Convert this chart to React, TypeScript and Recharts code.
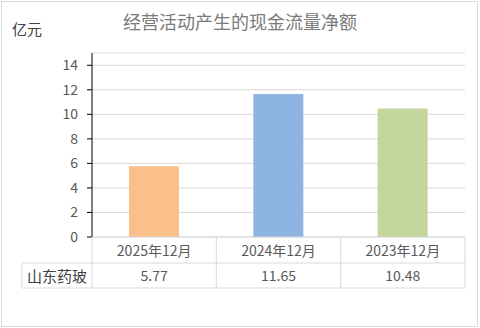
import React from 'react';
import { BarChart, Bar, XAxis, YAxis, CartesianGrid, Cell } from 'recharts';

const categories = ['2025年12月', '2024年12月', '2023年12月'];
const values = [5.77, 11.65, 10.48];
const seriesName = '山东药玻';
const colors = ['#F9C08C', '#8EB4E1', '#C4D69B'];
const yTicks = [0, 2, 4, 6, 8, 10, 12, 14];
const title = '经营活动产生的现金流量净额';
const unit = '亿元';

const data = categories.map((c, i) => ({ name: c, value: values[i] }));

const FONT = '"Noto Sans CJK SC", "Noto Sans", sans-serif';
const GRID = '#D9D9D9';
const TEXT = '#595959';

const TableTick = (props: any) => {
  const { x, y, payload, index } = props;
  const half = payload && payload.offset ? payload.offset : 62;
  const rowH = 26;
  const left = x - half;
  const right = x + half;
  const labelW = 70;
  return (
    <g>
      <line x1={left} x2={right} y1={y} y2={y} stroke={GRID} />
      <line x1={left} x2={right} y1={y + rowH} y2={y + rowH} stroke={GRID} />
      <line x1={left} x2={right} y1={y + 2 * rowH - 1} y2={y + 2 * rowH - 1} stroke={GRID} />
      <line x1={right} x2={right} y1={y} y2={y + 2 * rowH - 1} stroke={GRID} />
      {index === 0 && (
        <g>
          <line x1={left} x2={left} y1={y} y2={y + 2 * rowH - 1} stroke={GRID} />
          <line x1={left - labelW} x2={left} y1={y + rowH} y2={y + rowH} stroke={GRID} />
          <line x1={left - labelW} x2={left} y1={y + 2 * rowH - 1} y2={y + 2 * rowH - 1} stroke={GRID} />
          <line x1={left - labelW} x2={left - labelW} y1={y + rowH} y2={y + 2 * rowH - 1} stroke={GRID} />
          <text x={left - labelW / 2} y={y + rowH + 12} textAnchor="middle" dominantBaseline="central" fontSize={15} fill="#404040" fontFamily={FONT}>
            {seriesName}
          </text>
        </g>
      )}
      <text x={x} y={y + 13} textAnchor="middle" dominantBaseline="central" fontSize={14} fill={TEXT} fontFamily={FONT}>
        {payload.value}
      </text>
      <text x={x} y={y + rowH + 12} textAnchor="middle" dominantBaseline="central" fontSize={14} fill={TEXT} fontFamily={FONT}>
        {values[index].toFixed(2)}
      </text>
    </g>
  );
};

export default function App() {
  return (
    <div style={{ position: 'absolute', left: 0, top: 0, width: 480, height: 328, background: '#fff' }}>
      <div style={{ position: 'absolute', left: 1, top: 1, width: 477, height: 326, border: `1px solid ${GRID}`, boxSizing: 'border-box' }} />
      <div style={{ position: 'absolute', left: 0, top: 8, width: 480, textAlign: 'center', fontFamily: FONT, fontSize: 18, lineHeight: '26px', color: '#7A7A7A' }}>
        {title}
      </div>
      <div style={{ position: 'absolute', left: 12, top: 18, fontFamily: FONT, fontSize: 15, lineHeight: '22px', color: '#404040' }}>
        {unit}
      </div>
      <div style={{ position: 'absolute', left: 0, top: 0 }}>
        <BarChart width={480} height={328} data={data} margin={{ top: 53, right: 15, left: 0, bottom: 40 }}>
          <CartesianGrid vertical={false} stroke={GRID} />
          <XAxis
            dataKey="name"
            height={51}
            axisLine={false}
            tickLine={false}
            tickSize={0}
            tickMargin={0}
            interval={0}
            tick={<TableTick />}
          />
          <YAxis
            width={92}
            domain={[0, 15]}
            ticks={yTicks}
            interval={0}
            axisLine={{ stroke: '#000' }}
            tickLine={{ stroke: '#000' }}
            tickSize={5}
            tickMargin={9}
            tick={{ fontSize: 14, fill: TEXT, fontFamily: FONT }}
          />
          <Bar dataKey="value" barSize={50} isAnimationActive={false}>
            {data.map((d, i) => (
              <Cell key={d.name} fill={colors[i]} />
            ))}
          </Bar>
        </BarChart>
      </div>
    </div>
  );
}
